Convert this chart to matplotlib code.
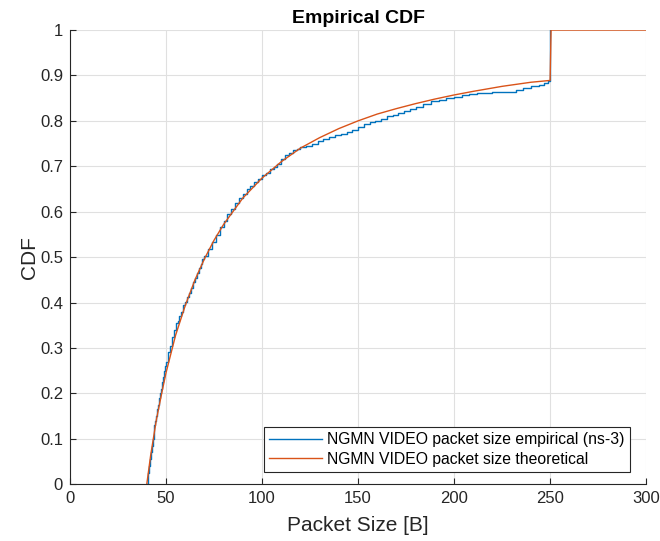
import numpy as np
import matplotlib.pyplot as plt

plt.rcParams['font.family'] = ['Liberation Sans', 'DejaVu Sans']

# empirical ECDF (ns-3)
emp_x = [40, 40.5, 41, 41.5, 42, 42.5, 43, 43.5, 44, 44.5, 45, 45.5, 46, 46.5, 47,
         47.5, 48, 48.5, 49, 49.5, 50, 51, 52, 53, 54, 55, 56, 57, 58, 59, 60, 61,
         62, 63, 64, 65, 66, 67, 68, 69, 70, 72, 74, 76, 78, 80, 82, 84, 86, 88, 90,
         92, 94, 96, 98, 100, 102, 104, 106, 108, 110, 112, 114, 116, 118, 120, 123,
         126, 129, 132, 135, 138, 141, 144, 147, 150, 153, 156, 159, 162, 165, 168,
         171, 174, 177, 180, 184, 188, 192, 196, 200, 204, 208, 212, 216, 220, 224,
         228, 232, 236, 240, 244, 247, 249, 250]
emp_y = [0.0, 0.025, 0.04, 0.055, 0.07, 0.085, 0.1, 0.115, 0.13, 0.14, 0.15, 0.165,
         0.175, 0.19, 0.2, 0.21, 0.225, 0.235, 0.25, 0.26, 0.27, 0.29, 0.305, 0.325,
         0.34, 0.355, 0.36, 0.37, 0.38, 0.395, 0.402, 0.412, 0.422, 0.432, 0.445,
         0.455, 0.465, 0.475, 0.485, 0.495, 0.503, 0.518, 0.533, 0.548, 0.566, 0.58,
         0.595, 0.606, 0.62, 0.63, 0.64, 0.65, 0.656, 0.665, 0.673, 0.68, 0.685, 0.693,
         0.698, 0.705, 0.715, 0.725, 0.73, 0.735, 0.738, 0.742, 0.745, 0.75, 0.755,
         0.76, 0.765, 0.768, 0.772, 0.775, 0.78, 0.787, 0.793, 0.797, 0.80, 0.805,
         0.81, 0.813, 0.818, 0.822, 0.826, 0.83, 0.838, 0.843, 0.847, 0.85, 0.853,
         0.856, 0.859, 0.861, 0.862, 0.863, 0.863, 0.864, 0.867, 0.872, 0.876, 0.88,
         0.884, 0.887, 1.0]

# theoretical CDF
th_x = [40, 42, 45, 48, 50, 55, 60, 65, 70, 75, 80, 90, 100, 110, 120, 130, 140,
        150, 160, 170, 180, 190, 200, 210, 225, 240, 250, 250.5, 300]
th_y = [0.0, 0.063, 0.142, 0.205, 0.245, 0.328, 0.393, 0.449, 0.496, 0.537, 0.572,
        0.630, 0.674, 0.710, 0.740, 0.763, 0.783, 0.800, 0.815, 0.827, 0.838, 0.848,
        0.857, 0.865, 0.876, 0.885, 0.889, 1.0, 1.0]

fig = plt.figure(figsize=(6.6, 5.41), dpi=100)
ax = fig.add_axes([0.106, 0.105, 0.873, 0.8395])

ax.plot(emp_x, emp_y, drawstyle='steps-post', color='#0072BD', lw=1.0,
        label='NGMN VIDEO packet size empirical (ns-3)')
ax.plot(th_x, th_y, color='#D95319', lw=1.0,
        label='NGMN VIDEO packet size theoretical')

ax.set_xlim(0, 300)
ax.set_ylim(0, 1)
ax.set_xticks(np.arange(0, 301, 50))
ax.set_yticks(np.arange(0, 1.01, 0.1))
ax.set_yticklabels(['0', '0.1', '0.2', '0.3', '0.4', '0.5', '0.6', '0.7', '0.8', '0.9', '1'])
ax.grid(True, color='#e0e0e0', lw=0.8)
ax.set_axisbelow(True)
for s in ['top', 'right']:
    ax.spines[s].set_visible(False)
for s in ['left', 'bottom']:
    ax.spines[s].set_color('#262626')
    ax.spines[s].set_linewidth(0.8)
ax.tick_params(direction='in', length=4, labelsize=12, colors='#262626', pad=5)

ax.set_xlabel('Packet Size [B]', fontsize=15, color='#262626', labelpad=7)
ax.set_ylabel('CDF', fontsize=15, color='#262626', labelpad=1)
ax.set_title('Empirical CDF', fontsize=14, fontweight='bold', pad=5)

leg = ax.legend(loc='lower right', bbox_to_anchor=(0.972, 0.026), borderaxespad=0,
                fontsize=11.3, fancybox=False, framealpha=1, edgecolor='#262626',
                handlelength=3.4, borderpad=0.35, labelspacing=0.3, handletextpad=0.3)
leg.get_frame().set_linewidth(0.8)

fig.savefig('out.png', dpi=100)
